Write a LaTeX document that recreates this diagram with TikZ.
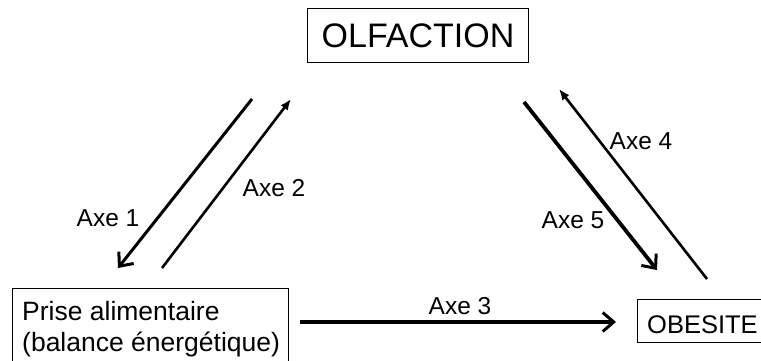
\documentclass[tikz,border=0pt]{standalone}
\usepackage{fontspec}
\setmainfont{Liberation Sans}
\usetikzlibrary{arrows.meta}
\begin{document}
\begin{tikzpicture}[x=1pt,y=-1pt,
  box/.style={draw, line width=1pt, inner sep=0pt},
  lbl/.style={font=\fontsize{24.5}{28}\selectfont, inner sep=0pt},
  txt/.style={font=\fontsize{26.5}{31}\selectfont, inner sep=0pt},
  barb/.style={-{Straight Barb[length=11pt,width=19pt,line width=3pt]}},
  filled/.style={-{Latex[length=11pt,width=9pt]}}]
\useasboundingbox (0,0) rectangle (761,360);
\clip (0,0) rectangle (761,360);
% boxes
\node[box, anchor=north west, minimum width=221pt, minimum height=54pt,
      font=\fontsize{34}{38}\selectfont] (olf) at (307,8) {OLFACTION};
\node[box, anchor=north west, minimum width=276pt, minimum height=90pt] (prise) at (12,288) {};
\node[txt, anchor=base west] (p1) at (22,320) {Prise alimentaire};
\node[txt, anchor=base west] (p2) at (22,351) {(balance énergétique)};
\node[box, anchor=north west, minimum width=140pt, minimum height=43pt] (obe) at (637,299) {};
\node[inner sep=0pt, font=\fontsize{25.5}{30}\selectfont, anchor=base west] (obet) at (647,333) {OBESITE};
% endpoints
\coordinate (a1s) at (252,99);  \coordinate (a1e) at (118,268);
\coordinate (a2s) at (162,268); \coordinate (a2e) at (291,99);
\coordinate (a3s) at (300,322); \coordinate (a3e) at (616,322);
\coordinate (a4s) at (707,279); \coordinate (a4e) at (559,89);
\coordinate (a5s) at (524,102); \coordinate (a5e) at (657,270);
% arrows
\draw[line width=3pt, barb] (a1s) -- (a1e);
\draw[line width=2.6pt, filled] (a2s) -- (a2e);
\draw[line width=3.4pt, barb] (a3s) -- (a3e);
\draw[line width=2.6pt, filled] (a4s) -- (a4e);
\draw[line width=3.8pt, barb] (a5s) -- (a5e);
% labels
\node[lbl] (l1) at (108,218) {Axe 1};
\node[lbl] (l2) at (274,188) {Axe 2};
\node[lbl, anchor=base] (l3) at (460,314) {Axe 3};
\node[lbl] (l4) at (641,141) {Axe 4};
\node[lbl] (l5) at (573,220) {Axe 5};
\end{tikzpicture}
\end{document}
